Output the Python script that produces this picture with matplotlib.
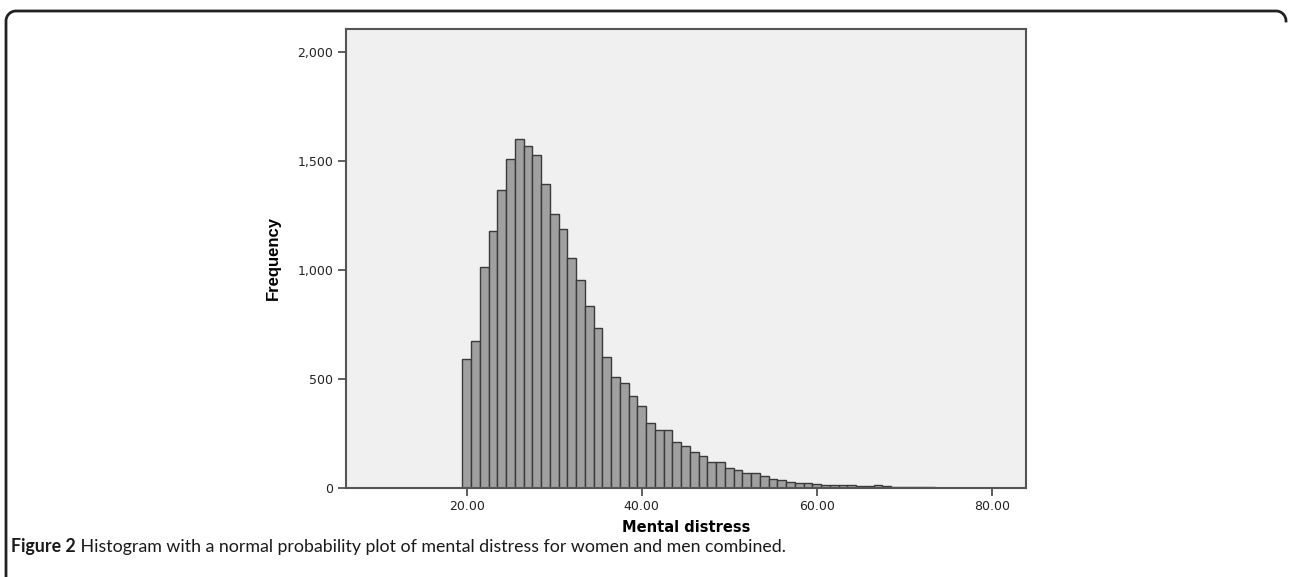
import matplotlib
matplotlib.use("Agg")
import matplotlib.pyplot as plt
from matplotlib.lines import Line2D
from matplotlib.ticker import FuncFormatter
import numpy as np

# histogram of mental distress scores, one bar per integer score
scores = list(range(20, 75))
counts = [592, 674, 1014, 1177, 1366, 1511, 1599, 1569, 1527, 1396,
          1258, 1187, 1057, 953, 835, 734, 602, 508, 483, 424,
          378, 297, 266, 265, 212, 194, 164, 145, 118, 118,
          93, 83, 70, 67, 56, 41, 35, 29, 24, 24,
          20, 14, 12, 13, 13, 10, 7, 13, 7, 6,
          4, 4, 5, 3, 2]

y_ticks = [0, 500, 1000, 1500, 2000]
x_ticks = [20, 40, 60, 80]
caption_bold = "Figure 2"
caption_rest = " Histogram with a normal probability plot of mental distress for women and men combined."

W, H = 1289, 577
fig = plt.figure(figsize=(W / 100, H / 100), dpi=100)
fig.patch.set_facecolor("white")

# outer frame: top edge, left edge and two rounded corners (pixel coords)
r = 10
left, right, top = 6, 1286, 11
a = np.linspace(0, np.pi / 2, 20)
px = np.concatenate([np.full(2, left),
                     left + r - r * np.cos(a),
                     right - r + r * np.sin(a)])
py = np.concatenate([[H + 5, top + r],
                     top + r - r * np.sin(a),
                     top + r - r * np.cos(a)])
fig.add_artist(Line2D(px / W, 1 - py / H, transform=fig.transFigure,
                      color="#222222", linewidth=2))

ax = fig.add_axes([346 / W, 1 - 488 / H, (1026 - 346) / W, (488 - 29) / H])
ax.set_facecolor("#f0f0f0")

ax.bar(scores, counts, width=1.0, color="#a0a0a0", edgecolor="#3a3a3a", linewidth=1.0)

ax.set_xlim(6.2, 83.9)
ax.set_ylim(0, 2105)
ax.set_yticks(y_ticks)
ax.set_xticks(x_ticks)
ax.yaxis.set_major_formatter(FuncFormatter(lambda v, p: f"{int(v):,}"))
ax.xaxis.set_major_formatter(FuncFormatter(lambda v, p: f"{v:.2f}"))
ax.tick_params(axis="both", direction="out", length=6, width=1.2, color="#444444",
               labelsize=9, labelcolor="#222222", pad=3)
for s in ax.spines.values():
    s.set_color("#555555")
    s.set_linewidth(1.5)

ax.set_ylabel("Frequency", fontsize=12, fontweight="bold", family="Liberation Sans", labelpad=12)
ax.set_xlabel("Mental distress", fontsize=10.5, fontweight="bold", labelpad=5)

# caption, bold label then normal text
t1 = fig.text(11 / W, 1 - 552 / H, caption_bold, fontsize=12.8, fontweight="bold",
              family="Lato", color="#1a1a1a", va="baseline")
fig.canvas.draw()
bb = t1.get_window_extent()
fig.text(bb.x1 / W, 1 - 552 / H, caption_rest, fontsize=12.8,
         family="Lato", color="#1a1a1a", va="baseline")

fig.savefig("out.png", dpi=100)
